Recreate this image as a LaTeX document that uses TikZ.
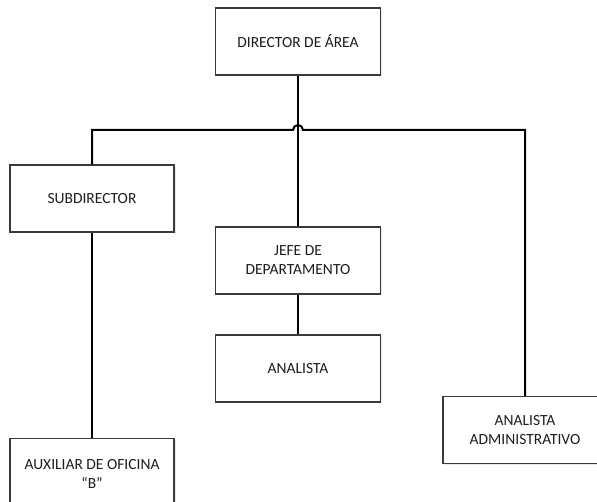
\documentclass[tikz,border=0pt]{standalone}
\usepackage{fontspec}
\setmainfont{Carlito}
\usetikzlibrary{shadows}
\definecolor{boxline}{HTML}{3A3A3A}
\definecolor{txt}{HTML}{1E1E1E}
\tikzset{
  orgbox/.style={draw=boxline, line width=1.3pt, fill=white, rectangle,
    minimum width=165pt, minimum height=67pt, align=center, text=txt,
    font=\fontsize{15.5}{19}\selectfont, inner sep=2pt,
    drop shadow={opacity=0.18, shadow xshift=1.5pt, shadow yshift=-1.5pt}},
  conn/.style={draw=black, line width=2pt}
}
\begin{document}
\begin{tikzpicture}[x=1pt,y=1pt]
\useasboundingbox (0,0) rectangle (597,-502);
\begin{scope}
\clip (0,0) rectangle (597,-502);
\node[orgbox] (dir) at (298,-41.5) {DIRECTOR DE ÁREA};
\node[orgbox, minimum width=164pt] (sub) at (92,-198.5) {SUBDIRECTOR};
\node[orgbox] (jefe) at (298,-260.5) {JEFE DE\\DEPARTAMENTO};
\node[orgbox] (ana) at (298,-368.5) {ANALISTA};
\node[orgbox, minimum width=164pt] (adm) at (525,-430) {ANALISTA\\ADMINISTRATIVO};
\node[orgbox, minimum width=164pt, minimum height=70pt, anchor=north] (aux) at (92,-437.5) {};
\node[text=txt, font=\fontsize{15.5}{19}\selectfont, align=center] (auxt) at (92,-474) {AUXILIAR DE OFICINA\\“B”};
\end{scope}
\coordinate (hl) at (293,-130);
\draw[conn] (dir.south) -- (jefe.north);
\draw[conn] (sub.north) |- (hl) arc[start angle=180, end angle=0, radius=5pt] -| (adm.north);
\draw[conn] (sub.south) -- (aux.north);
\draw[conn] (jefe.south) -- (ana.north);
\end{tikzpicture}
\end{document}
